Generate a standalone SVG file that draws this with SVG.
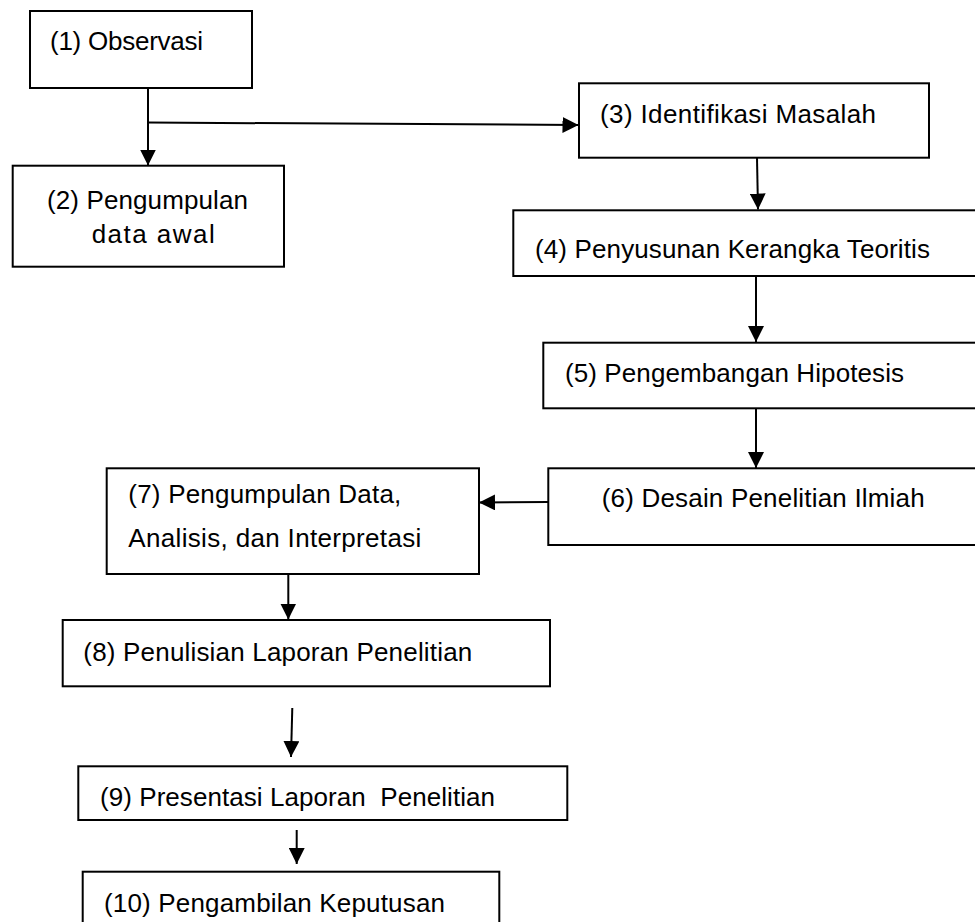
<svg xmlns="http://www.w3.org/2000/svg" width="975" height="922" viewBox="0 0 975 922">
  <style>
    .box { fill: #ffffff; stroke: #000000; stroke-width: 2; }
    .lbl { font-family: "Liberation Sans", Arial, sans-serif; font-size: 26px; fill: #000000; }
    .conn { stroke: #000000; stroke-width: 2; fill: none; }
  </style>
  <defs>
    <marker id="arr" markerUnits="userSpaceOnUse" viewBox="0 0 16 16" refX="16" refY="8" markerWidth="16" markerHeight="16" orient="auto">
      <path d="M0,0 L16,8 L0,16 z" fill="#000000"/>
    </marker>
  </defs>
  <rect width="975" height="922" fill="#ffffff"/>

  <g id="connectors">
    <line class="conn" x1="148" y1="88" x2="148" y2="165.5" marker-end="url(#arr)"/>
    <line class="conn" x1="148" y1="122.5" x2="578.5" y2="125" marker-end="url(#arr)"/>
    <line class="conn" x1="757" y1="158" x2="758" y2="209.5" marker-end="url(#arr)"/>
    <line class="conn" x1="756" y1="276" x2="756" y2="342" marker-end="url(#arr)"/>
    <line class="conn" x1="756" y1="408" x2="756" y2="468" marker-end="url(#arr)"/>
    <line class="conn" x1="548" y1="502" x2="479" y2="502.5" marker-end="url(#arr)"/>
    <line class="conn" x1="288.3" y1="574" x2="288.3" y2="619.5" marker-end="url(#arr)"/>
    <line class="conn" x1="292.3" y1="708" x2="291" y2="757" marker-end="url(#arr)"/>
    <line class="conn" x1="296.7" y1="830" x2="296.7" y2="864" marker-end="url(#arr)"/>
  </g>

  <g id="node1">
    <rect class="box" x="30" y="11" width="222" height="77"/>
    <text class="lbl" x="50" y="50" textLength="153" lengthAdjust="spacing">(1) Observasi</text>
  </g>
  <g id="node2">
    <rect class="box" x="12.7" y="165.7" width="271.3" height="101"/>
    <text class="lbl" x="47" y="209.3" textLength="201" lengthAdjust="spacing">(2) Pengumpulan</text>
    <text class="lbl" x="91.7" y="243.3" textLength="123" lengthAdjust="spacing">data awal</text>
  </g>
  <g id="node3">
    <rect class="box" x="579" y="83.3" width="350" height="74.4"/>
    <text class="lbl" x="600" y="122.7" textLength="276" lengthAdjust="spacing">(3) Identifikasi Masalah</text>
  </g>
  <g id="node4">
    <rect class="box" x="513.3" y="210.3" width="480" height="65.7"/>
    <text class="lbl" x="535" y="258.3" textLength="395" lengthAdjust="spacing">(4) Penyusunan Kerangka Teoritis</text>
  </g>
  <g id="node5">
    <rect class="box" x="543.3" y="342.7" width="450" height="65.6"/>
    <text class="lbl" x="565" y="381.7" textLength="339" lengthAdjust="spacing">(5) Pengembangan Hipotesis</text>
  </g>
  <g id="node6">
    <rect class="box" x="548.3" y="468.3" width="450" height="76.7"/>
    <text class="lbl" x="601.7" y="506.7" textLength="323" lengthAdjust="spacing">(6) Desain Penelitian Ilmiah</text>
  </g>
  <g id="node7">
    <rect class="box" x="106.7" y="468.3" width="372.3" height="105.7"/>
    <text class="lbl" x="128.3" y="503.3" textLength="273" lengthAdjust="spacing">(7) Pengumpulan Data,</text>
    <text class="lbl" x="128.3" y="547.3" textLength="293" lengthAdjust="spacing">Analisis, dan Interpretasi</text>
  </g>
  <g id="node8">
    <rect class="box" x="62.7" y="620" width="487.3" height="66.3"/>
    <text class="lbl" x="83.3" y="661" textLength="389" lengthAdjust="spacing">(8) Penulisian Laporan Penelitian</text>
  </g>
  <g id="node9">
    <rect class="box" x="78.3" y="766.3" width="489" height="53.7"/>
    <text class="lbl" x="100" y="806" textLength="395" lengthAdjust="spacing" xml:space="preserve">(9) Presentasi Laporan  Penelitian</text>
  </g>
  <g id="node10">
    <rect class="box" x="82.7" y="871.7" width="416.6" height="80"/>
    <text class="lbl" x="104" y="911.7" textLength="341" lengthAdjust="spacing">(10) Pengambilan Keputusan</text>
  </g>
</svg>
